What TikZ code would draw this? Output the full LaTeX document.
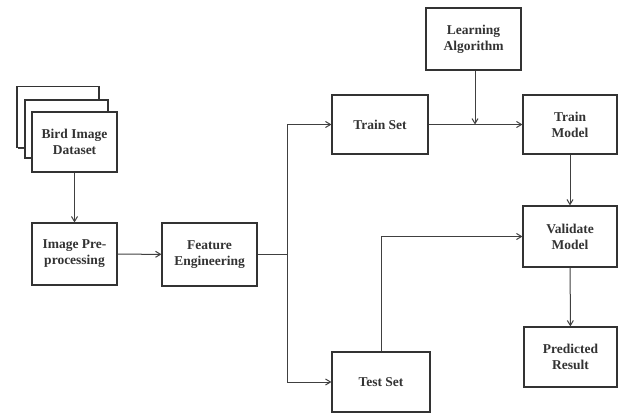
\documentclass[tikz,border=0pt]{standalone}
\usepackage{fontspec}
\setmainfont{Liberation Serif}
\usetikzlibrary{arrows.meta,shadows}
\begin{document}
\begin{tikzpicture}[x=1pt,y=-1pt,
  box/.style={draw=black!80, line width=1.1pt, fill=white, align=center,
    font=\bfseries\fontsize{13.5}{16}\selectfont, text=black!80,
    inner sep=0pt, drop shadow={shadow xshift=1.3pt, shadow yshift=-1.3pt, fill=black!75, opacity=1}},
  conn/.style={draw=black!75, line width=1pt},
  arr/.style={conn, -{Straight Barb[length=5pt,width=6pt,line width=1pt]}}]
\useasboundingbox (0,0) rectangle (620,414);
% dataset stack
\node[box, minimum width=82pt, minimum height=61pt] (d3) at (58,117) {};
\node[box, minimum width=83pt, minimum height=58pt] (d2) at (66.5,129) {};
\node[box, minimum width=85pt, minimum height=60pt] (data) at (74.5,142) {Bird Image\\Dataset};
\node[box, minimum width=85pt, minimum height=62pt] (pre) at (74.5,254) {Image Pre-\\processing};
\node[box, minimum width=95pt, minimum height=63pt] (feat) at (209.5,254.5) {Feature\\Engineering};
\node[box, minimum width=96pt, minimum height=59pt] (train) at (380,124.5) {Train Set};
\node[box, minimum width=98pt, minimum height=60pt] (test) at (381,382) {Test Set};
\node[box, minimum width=95pt, minimum height=62pt] (learn) at (473.5,39) {Learning\\Algorithm};
\node[box, minimum width=94pt, minimum height=59pt] (tmodel) at (570,124.5) {Train\\Model};
\node[box, minimum width=94pt, minimum height=61pt] (vmodel) at (570,236.5) {Validate\\Model};
\node[box, minimum width=93pt, minimum height=60pt] (pred) at (570.5,357) {Predicted\\Result};
\coordinate (split) at (287,254.5);
\coordinate (join) at (475,124.5);
% connectors
\draw[arr] (data) -- (pre);
\draw[arr] (pre) -- (feat);
\draw[conn] (feat) -- (split);
\draw[arr] (split) |- (train);
\draw[arr] (split) |- (test);
\draw[arr] (train) -- (tmodel);
\draw[arr] (learn.south -| join) -- (join);
\draw[arr] (tmodel) -- (vmodel);
\draw[arr] (test.north) |- (vmodel.west);
\draw[arr] (vmodel) -- (pred);
\end{tikzpicture}
\end{document}
